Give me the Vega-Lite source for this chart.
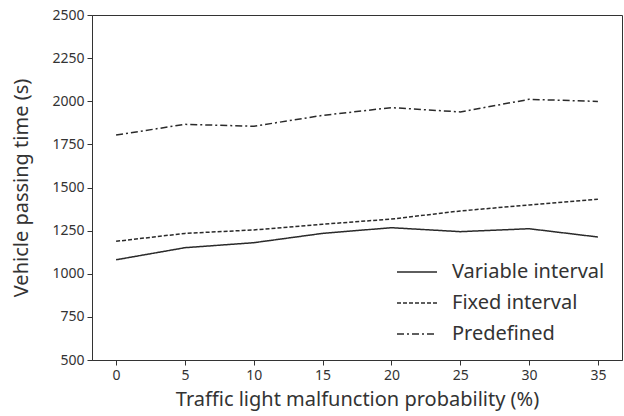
{
  "$schema": "https://vega.github.io/schema/vega-lite/v6.json",
  "autosize": "none",
  "padding": {"left": 92, "top": 15, "right": 2, "bottom": 56},
  "width": 530,
  "height": 345,
  "config": {
    "font": "Noto Sans",
    "view": {"stroke": "#333", "strokeWidth": 1}
  },
  "data": {
    "values": [
      {"p": 0, "series": "Variable interval", "t": 1081},
      {"p": 5, "series": "Variable interval", "t": 1151},
      {"p": 10, "series": "Variable interval", "t": 1180},
      {"p": 15, "series": "Variable interval", "t": 1234},
      {"p": 20, "series": "Variable interval", "t": 1267},
      {"p": 25, "series": "Variable interval", "t": 1244},
      {"p": 30, "series": "Variable interval", "t": 1261},
      {"p": 35, "series": "Variable interval", "t": 1213},
      {"p": 0, "series": "Fixed interval", "t": 1188},
      {"p": 5, "series": "Fixed interval", "t": 1234},
      {"p": 10, "series": "Fixed interval", "t": 1254},
      {"p": 15, "series": "Fixed interval", "t": 1287},
      {"p": 20, "series": "Fixed interval", "t": 1317},
      {"p": 25, "series": "Fixed interval", "t": 1364},
      {"p": 30, "series": "Fixed interval", "t": 1399},
      {"p": 35, "series": "Fixed interval", "t": 1432},
      {"p": 0, "series": "Predefined", "t": 1804},
      {"p": 5, "series": "Predefined", "t": 1866},
      {"p": 10, "series": "Predefined", "t": 1855},
      {"p": 15, "series": "Predefined", "t": 1918},
      {"p": 20, "series": "Predefined", "t": 1963},
      {"p": 25, "series": "Predefined", "t": 1938},
      {"p": 30, "series": "Predefined", "t": 2011},
      {"p": 35, "series": "Predefined", "t": 1999}
    ]
  },
  "mark": {"type": "line", "color": "#2a2a2a", "strokeWidth": 1.5},
  "encoding": {
    "x": {
      "field": "p", "type": "quantitative",
      "scale": {"domain": [-1.75, 36.75], "nice": false, "zero": false},
      "axis": {
        "values": [0, 5, 10, 15, 20, 25, 30, 35],
        "title": "Traffic light malfunction probability (%)",
        "titleFontSize": 20, "titleFontWeight": "normal", "titleColor": "#333", "titlePadding": 7,
        "labelFontSize": 14, "labelColor": "#333", "labelPadding": 3,
        "grid": false, "domainColor": "#333", "tickColor": "#333", "tickSize": 5
      }
    },
    "y": {
      "field": "t", "type": "quantitative",
      "scale": {"domain": [500, 2500], "nice": false, "zero": false},
      "axis": {
        "values": [500, 750, 1000, 1250, 1500, 1750, 2000, 2250, 2500],
        "format": "d",
        "title": "Vehicle passing time (s)",
        "titleFontSize": 20, "titleFontWeight": "normal", "titleColor": "#333", "titlePadding": 20,
        "labelFontSize": 14, "labelColor": "#333", "labelPadding": 3,
        "grid": false, "domainColor": "#333", "tickColor": "#333", "tickSize": 5
      }
    },
    "strokeDash": {
      "field": "series", "type": "nominal",
      "scale": {
        "domain": ["Variable interval", "Fixed interval", "Predefined"],
        "range": [[1, 0], [4, 2], [7, 3, 2, 3]]
      },
      "legend": {
        "title": null,
        "orient": "none",
        "legendX": 314,
        "legendY": 246,
        "symbolType": "M-2,0H2",
        "symbolSize": 400,
        "symbolStrokeWidth": 1.5,
        "symbolStrokeColor": "#2a2a2a",
        "labelFontSize": 20,
        "labelColor": "#333",
        "labelOffset": 24,
        "rowPadding": 10
      }
    }
  }
}
